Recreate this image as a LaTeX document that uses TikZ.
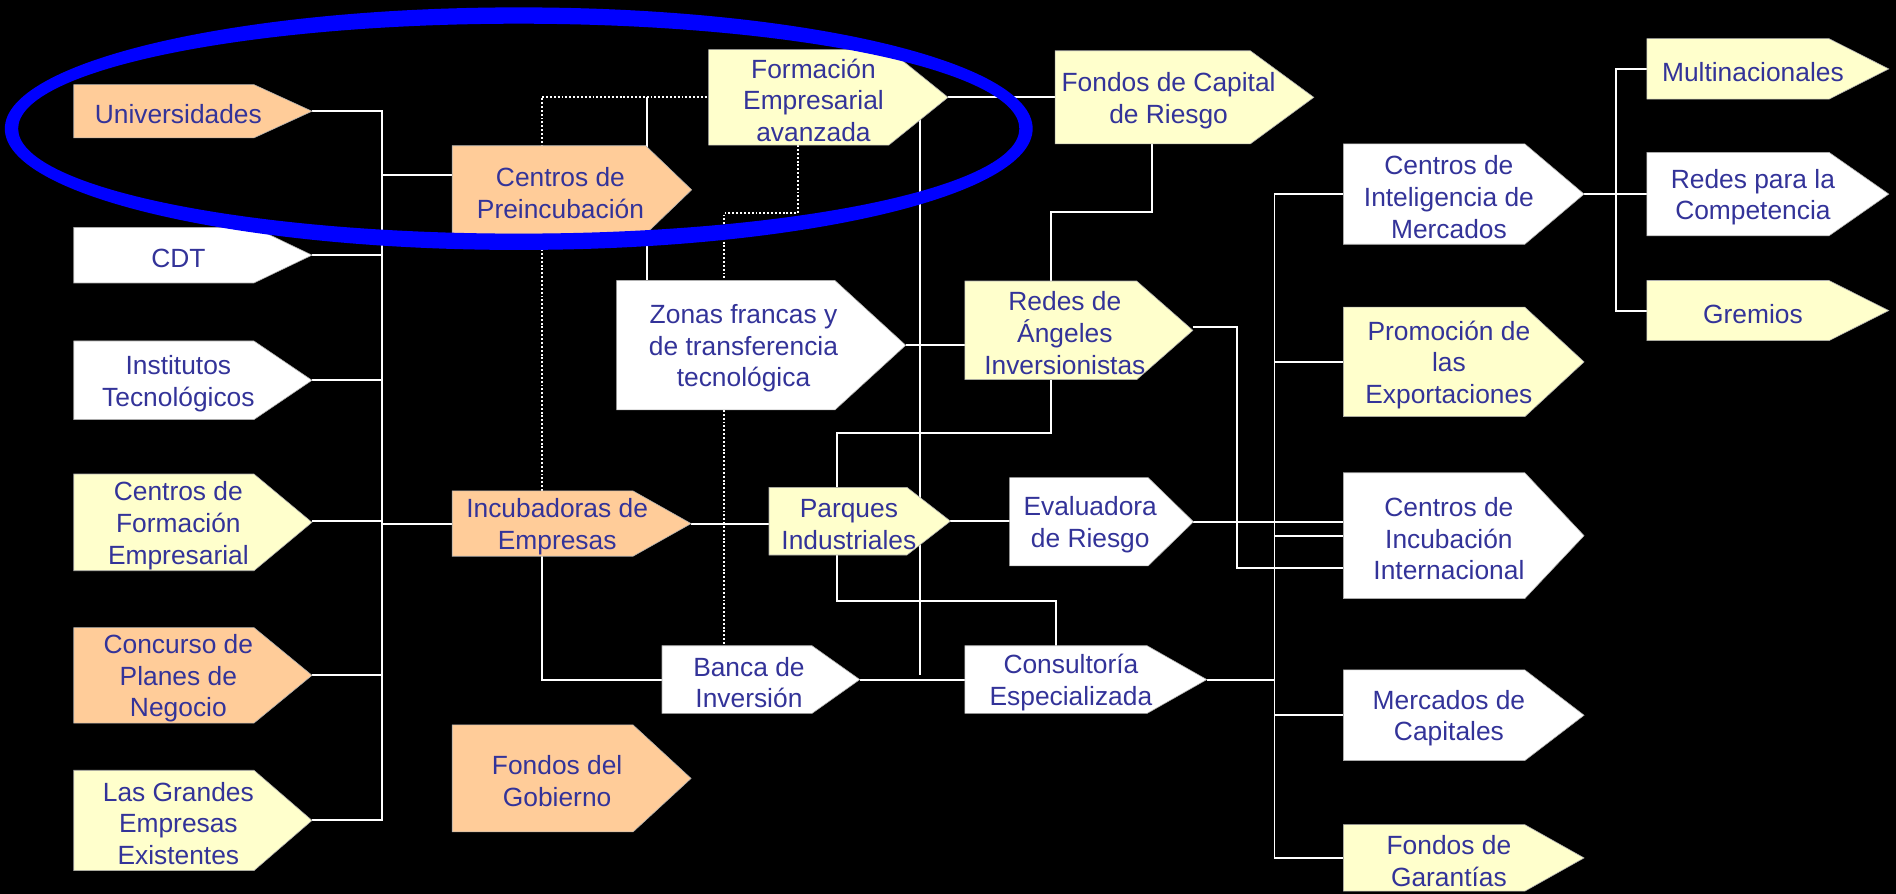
\documentclass[tikz,border=0pt]{standalone}
\usepackage{fontspec}
\setmainfont{Liberation Sans}
\definecolor{peach}{HTML}{FFCC99}
\definecolor{ylw}{HTML}{FFFFCC}
\definecolor{tblue}{HTML}{333399}
\definecolor{eblue}{HTML}{0000FF}
\pgfdeclarelayer{bg}
\pgfdeclarelayer{fg}
\pgfsetlayers{bg,main,fg}
\tikzset{
 bbox/.style={inner sep=0pt, outer sep=0pt, draw=none, rectangle},
 shapeedge/.style={draw={rgb,255:red,175;green,175;blue,175}, line width=0.5pt},
 lbl/.style={text=tblue, align=center, inner sep=0pt, yshift=-2.5pt, font=\fontsize{21.8}{26.3}\selectfont},
 wire/.style={draw=white, line width=1.6pt},
 dotwire/.style={draw=white, line width=1.6pt, dash pattern=on 1.6pt off 1.6pt},
}
% #1 name, #2 left, #3 top, #4 straight-edge end, #5 tip, #6 bottom, #7 fill, #8 text
\newcommand\pent[8]{%
  \pgfmathsetmacro\pw{(#5)-(#2)}%
  \pgfmathsetmacro\ph{(#6)-(#3)}%
  \node[bbox, minimum width=\pw pt, minimum height=\ph pt, anchor=north west] (#1) at (#2,#3) {};
  \filldraw[shapeedge, fill=#7] (#2,#3) -- (#4,#3) -- (#1.east) -- (#4,#6) -- (#2,#6) -- cycle;
  \node[lbl] (#1-t) at ({((#2)+((#4)+(#5))/2)/2},{((#3)+(#6))/2}) {#8};
}
\begin{document}
\begin{tikzpicture}[x=1pt,y=-1pt]
\useasboundingbox (0,0) rectangle (1568,739);
\begin{pgfonlayer}{bg}
\fill[black] (0,0) rectangle (1568,739);
\end{pgfonlayer}

% left column
\pent{univ}{61}{70}{210}{258}{114}{peach}{Universidades}
\pent{cdt}{61}{188}{210}{258}{234}{white}{CDT}
\pent{inst}{61}{282}{210}{258}{347}{white}{Institutos\\Tecnológicos}
\pent{cform}{61}{392}{210}{258}{472}{ylw}{Centros de\\Formación\\Empresarial}
\pent{conc}{61}{519}{210}{258}{598}{peach}{Concurso de\\Planes de\\Negocio}
\pent{grand}{61}{637}{210}{258}{720}{ylw}{Las Grandes\\Empresas\\Existentes}
% second column
\pent{cpre}{374}{120.5}{534}{572}{193.5}{peach}{Centros de\\Preincubación}
\pent{incub}{374}{406}{523.5}{571.5}{460}{peach}{Incubadoras de\\Empresas}
\pent{fgob}{374}{599.5}{523.5}{571.5}{688}{peach}{Fondos del\\Gobierno}
% middle
\pent{fadv}{586}{41}{735}{784}{120}{ylw}{Formación\\Empresarial\\avanzada}
\pent{zonas}{510}{232}{690.5}{749}{339}{white}{Zonas francas y\\de transferencia\\tecnológica}
\pent{banca}{547.5}{534}{671.5}{711}{590}{white}{Banca de\\Inversión}
\pent{parq}{636}{403}{750}{786}{459}{ylw}{Parques\\Industriales}
\pent{fcap}{872.6}{42}{1034}{1086.5}{119}{ylw}{Fondos de Capital\\de Riesgo}
\pent{redes}{798}{232.4}{940}{986.5}{314}{ylw}{Redes de\\Ángeles\\Inversionistas}
\pent{eval}{835}{395}{949.5}{987}{468}{white}{Evaluadora\\de Riesgo}
\pent{cons}{798}{534}{948.6}{998}{590}{white}{Consultoría\\Especializada}
% right columns
\pent{cintel}{1111}{119}{1261}{1310}{202}{white}{Centros de\\Inteligencia de\\Mercados}
\pent{prom}{1111}{254}{1261}{1310}{344.6}{ylw}{Promoción de\\las\\Exportaciones}
\pent{cincub}{1111}{391}{1261}{1310}{495}{white}{Centros de\\Incubación\\Internacional}
\pent{merc}{1111}{554}{1261}{1310}{629}{white}{Mercados de\\Capitales}
\pent{fgar}{1111}{682}{1261}{1310}{737}{ylw}{Fondos de\\Garantías}
\pent{multi}{1362}{32}{1512.6}{1562}{82}{ylw}{Multinacionales}
\pent{rcomp}{1362}{126}{1512.6}{1562}{195}{white}{Redes para la\\Competencia}
\pent{grem}{1362}{232}{1512.6}{1562}{281.7}{ylw}{Gremios}

% bus and junction coordinates
\coordinate (bL) at (316,0);
\coordinate (jpre) at (316,145);
\coordinate (d1) at (448,80);
\coordinate (s1) at (535,80);
\coordinate (d2) at (660,176);
\coordinate (d3) at (599,176);
\coordinate (s2) at (448,562);
\coordinate (s3) at (761,95);
\coordinate (s3b) at (761,558);
\coordinate (s4) at (953,175);
\coordinate (s5) at (869,175);
\coordinate (s6) at (869,358);
\coordinate (s7) at (692,358);
\coordinate (s8) at (692,497);
\coordinate (s9) at (873,497);
\coordinate (s10) at (1023,270);
\coordinate (s11) at (1023,469.5);
\coordinate (bR) at (1054,0);
\coordinate (bF) at (1336.5,0);

\begin{pgfonlayer}{bg}
% left bus
\draw[wire] (univ.east) -| (grand.east -| bL) -- (grand.east);
\draw[wire] (cdt.east) -- (cdt.east -| bL);
\draw[wire] (inst.east) -- (inst.east -| bL);
\draw[wire] ([yshift=1pt]cform.east) -- ([yshift=1pt]cform.east -| bL);
\draw[wire] (conc.east) -- (conc.east -| bL);
\draw[wire] (jpre) -- (jpre -| cpre.west);
\draw[wire] (incub.west -| bL) -- (incub.west);
% dotted links
\draw[dotwire] (d1 |- incub.north) -- (d1) -- (d1 -| fadv.west);
\draw[dotwire] (d2 |- fadv.south) -- (d2) -- (d3) -- (d3 |- zonas.north);
\draw[dotwire] (d3 |- zonas.south) -- (d3 |- banca.north);
% solid links, middle
\draw[wire] (s1) -- (s1 |- zonas.north);
\draw[wire] (s2 |- incub.south) -- (s2) -- (banca.west);
\draw[wire] (incub.east) -- (incub.east -| parq.west);
\draw[wire] (banca.east) -- (cons.west);
\draw[wire] (s3) -- (s3b);
\draw[wire] (zonas.east) -- (zonas.east -| redes.west);
\draw[wire] (fadv.east) -- (fcap.west);
\draw[wire] (s4 |- fcap.south) -- (s4) -- (s5) -- (s5 |- redes.north);
\draw[wire] (s6 |- redes.south) -- (s6) -- (s7) -- (s7 |- parq.north);
\draw[wire] (s8 |- parq.south) -- (s8) -- (s9) -- (s9 |- cons.north);
\draw[wire] (parq.east) -- (parq.east -| eval.west);
\draw[wire] (eval.east) -- (eval.east -| cincub.west);
\draw[wire] ([yshift=3pt]redes.east) -- ([yshift=3pt]redes.east -| s10) -- (s11) -- (s11 -| cincub.west);
% right bus
\draw[wire] (cintel.west) -- (cintel.west -| bR) -- (fgar.west -| bR) -- (fgar.west);
\draw[wire] (prom.west -| bR) -- (prom.west);
\draw[wire] (cincub.west -| bR) -- (cincub.west);
\draw[wire] (cons.east) -- (cons.east -| bR);
\draw[wire] (merc.west -| bR) -- (merc.west);
% far right bus
\draw[wire] (cintel.east) -- (cintel.east -| bF);
\draw[wire] (multi.west) -- (multi.west -| bF) -- (grem.west -| bF) -- (grem.west);
\draw[wire] (rcomp.west -| bF) -- (rcomp.west);
\end{pgfonlayer}

\begin{pgfonlayer}{fg}
\fill[eblue, even odd rule] (429,106.4) ellipse [x radius=425pt, y radius=100.3pt]
  (429,106.4) ellipse [x radius=414pt, y radius=86.8pt];
\end{pgfonlayer}
\end{tikzpicture}
\end{document}
